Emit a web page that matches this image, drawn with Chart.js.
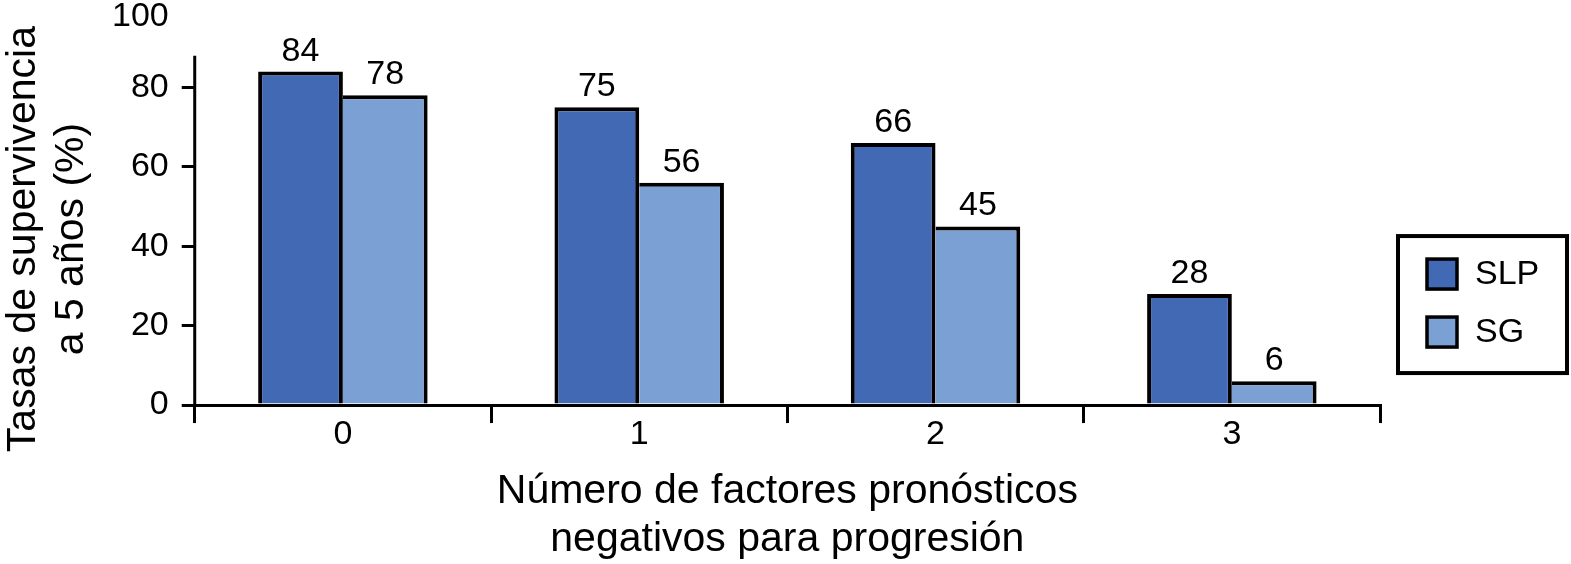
<!DOCTYPE html>
<html lang="es">
<head>
<meta charset="utf-8">
<title>Tasas de supervivencia a 5 años</title>
<script src="https://cdn.jsdelivr.net/npm/chart.js@4.4.1/dist/chart.umd.min.js"></script>
<style>
  html, body { margin: 0; padding: 0; background: #fff; }
  #wrap { width: 1571px; height: 564px; position: relative; }
</style>
</head>
<body>
<div id="wrap"><canvas id="chart"></canvas></div>
<script>
// valores
const categorias = ['0', '1', '2', '3'];
const series = ['SLP', 'SG'];
const slp = [84, 75, 66, 28];
const sg = [78, 56, 45, 6];
const yTicks = [0, 20, 40, 60, 80, 100];
const tituloX = ['Número de factores pronósticos', 'negativos para progresión'];
const tituloY = ['Tasas de supervivencia', 'a 5 años (%)'];

const COLORS = { slp: '#4269b4', sg: '#7ba0d4', line: '#000' };
const FONT = '"Liberation Sans", Arial, Helvetica, sans-serif';
Chart.defaults.font.family = FONT;
Chart.defaults.color = '#000';

/** Numero encima de cada barra. */
const valueLabels = {
    id: 'valueLabels',
    afterDatasetsDraw(chart) {
        const ctx = chart.ctx;
        ctx.save();
        ctx.font = `34px ${FONT}`;
        ctx.fillStyle = COLORS.line;
        ctx.textAlign = 'center';
        ctx.textBaseline = 'alphabetic';
        chart.data.datasets.forEach((ds, i) => {
            chart.getDatasetMeta(i).data.forEach((bar, j) => {
                ctx.fillText(String(ds.data[j]), bar.x, bar.y - 11);
            });
        });
        ctx.restore();
    },
};

/** Eje Y corto (no llega hasta 100) + titulo Y en dos lineas. */
const yAxisDeco = {
    id: 'yAxisDeco',
    afterDraw(chart) {
        const { ctx, chartArea, scales } = chart;
        ctx.save();
        ctx.strokeStyle = COLORS.line;
        ctx.lineWidth = 3;
        ctx.beginPath();
        ctx.moveTo(chartArea.left, scales.y.getPixelForValue(88));
        ctx.lineTo(chartArea.left, chartArea.bottom);
        ctx.stroke();

        ctx.fillStyle = COLORS.line;
        ctx.font = `41px ${FONT}`;
        ctx.textAlign = 'center';
        ctx.textBaseline = 'middle';
        const cy = chartArea.bottom - 166;
        tituloY.forEach((t, i) => {
            ctx.save();
            ctx.translate(chartArea.left - 171 + i * 48, cy);
            ctx.rotate(-Math.PI / 2);
            ctx.fillText(t, 0, 0);
            ctx.restore();
        });
        ctx.restore();
    },
};

/** Leyenda con marco a la derecha del grafico. */
const boxLegend = {
    id: 'boxLegend',
    afterDraw(chart) {
        const { ctx, chartArea } = chart;
        const x0 = chartArea.right + 18, y0 = chartArea.bottom - 169, w = 169, h = 137;
        ctx.save();
        ctx.strokeStyle = COLORS.line;
        ctx.lineWidth = 4;
        ctx.strokeRect(x0, y0, w, h);
        ctx.lineWidth = 3.5;
        ctx.font = `34px ${FONT}`;
        ctx.textAlign = 'left';
        ctx.textBaseline = 'middle';
        chart.data.datasets.forEach((ds, i) => {
            const cy = y0 + 38 + i * 58;
            ctx.fillStyle = ds.backgroundColor;
            ctx.fillRect(x0 + 29, cy - 15, 30, 30);
            ctx.strokeRect(x0 + 29, cy - 15, 30, 30);
            ctx.fillStyle = COLORS.line;
            ctx.fillText(ds.label, x0 + 77, cy + 1);
        });
        ctx.restore();
    },
};

new Chart(document.getElementById('chart'), {
    type: 'bar',
    data: {
        labels: categorias,
        datasets: [
            {
                label: series[0], data: slp, backgroundColor: COLORS.slp, borderColor: COLORS.line,
                borderWidth: { top: 4, right: 4, bottom: 0, left: 4 }, borderSkipped: false,
            },
            {
                label: series[1], data: sg, backgroundColor: COLORS.sg, borderColor: COLORS.line,
                borderWidth: { top: 4, right: 4, bottom: 0, left: 0 }, borderSkipped: false,
            },
        ],
    },
    options: {
        responsive: true,
        maintainAspectRatio: false,
        animation: false,
        categoryPercentage: 0.572,
        barPercentage: 1,
        layout: { padding: { left: 99, right: 191, top: 0, bottom: 0 } },
        plugins: {
            legend: { display: false },
            tooltip: { enabled: false },
        },
        scales: {
            x: {
                z: 1,
                offset: true,
                border: { display: true, color: COLORS.line, width: 3 },
                grid: {
                    offset: true, drawOnChartArea: false, drawTicks: true,
                    tickLength: 18, tickWidth: 3, lineWidth: 3, tickColor: COLORS.line,
                },
                ticks: { font: { size: 34, lineHeight: 1 }, padding: -5, color: COLORS.line },
                title: {
                    display: true, text: tituloX, color: COLORS.line,
                    font: { size: 41, lineHeight: 1.17 }, padding: { top: 21, bottom: 0 },
                },
            },
            y: {
                min: 0,
                max: 100,
                afterBuildTicks: s => { s.ticks = yTicks.map(v => ({ value: v })); },
                // el 100 queda pegado arriba: poco margen superior, etiqueta algo mas abajo
                afterFit: s => { s.paddingTop = 8; },
                border: { display: false },
                grid: {
                    drawOnChartArea: false, drawTicks: true, tickLength: 13, tickWidth: 3, lineWidth: 3,
                    tickColor: c => (c.tick && c.tick.value === 100 ? 'rgba(0,0,0,0)' : COLORS.line),
                },
                ticks: {
                    autoSkip: false,
                    padding: 13,
                    color: COLORS.line,
                    callback: v => (v === 100 ? ['', '100'] : String(v)),
                    font: c => ({ size: 34, lineHeight: c.tick && c.tick.value === 100 ? '18px' : 1 }),
                },
            },
        },
    },
    plugins: [valueLabels, yAxisDeco, boxLegend],
});
</script>
</body>
</html>
